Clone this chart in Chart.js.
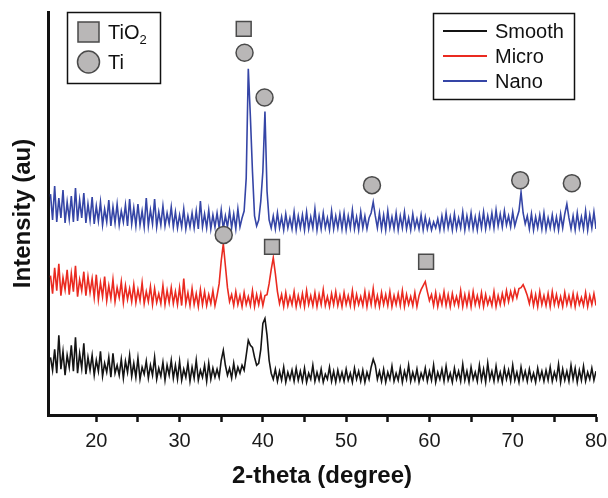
<!DOCTYPE html>
<html>
<head>
<meta charset="utf-8">
<script src="https://cdn.jsdelivr.net/npm/chart.js@4/dist/chart.umd.min.js"></script>
<style>
  html, body { margin: 0; padding: 0; background: #fff; }
  #wrap { width: 608px; height: 498px; }
</style>
</head>
<body>
<div id="wrap"><canvas id="xrdChart" width="608" height="498"></canvas></div>
<script>
// 2-theta sampling: first angle and step (degrees)
const startAngle = 14.5;
const stepAngle = 0.25;

// intensities (au), one row per 5 degrees starting at 14.5
const smooth = [
  58, 45, 66, 42, 80, 46, 64, 40, 60, 48, 70, 44, 78, 42, 62, 47, 72, 41, 58, 45,
  60, 40, 55, 44, 64, 39, 52, 43, 58, 38, 62, 42, 50, 40, 56, 37, 54, 43, 60, 39,
  52, 38, 57, 36, 48, 41, 54, 37, 50, 40, 58, 36, 47, 39, 53, 35, 50, 40, 55, 37,
  50, 36, 54, 35, 46, 38, 52, 34, 48, 37, 55, 35, 45, 38, 50, 34, 52, 36, 47, 38,
  46, 38, 55, 65, 50, 40, 47, 37, 52, 39, 48, 42, 50, 45, 60, 75, 70, 68, 58, 50,
  52, 66, 92, 97, 80, 55, 42, 36, 46, 34, 44, 35, 48, 33, 43, 36, 45, 34, 47, 35,
  44, 34, 47, 33, 42, 36, 50, 34, 43, 35, 46, 33, 41, 36, 48, 34, 44, 33, 45, 35,
  43, 34, 46, 35, 42, 33, 47, 36, 44, 34, 45, 33, 43, 36, 48, 56, 50, 36, 44, 34,
  46, 33, 43, 36, 49, 34, 42, 35, 47, 33, 44, 36, 50, 34, 43, 35, 46, 33, 42, 36,
  47, 34, 44, 35, 50, 33, 43, 36, 46, 34, 49, 35, 42, 33, 47, 36, 44, 34, 51, 35,
  44, 33, 48, 36, 43, 34, 50, 35, 46, 33, 52, 36, 44, 34, 49, 35, 43, 33, 47, 36,
  45, 34, 50, 35, 43, 33, 48, 36, 44, 34, 46, 35, 42, 33, 47, 36, 44, 34, 45, 35,
  48, 34, 43, 36, 51, 33, 46, 35, 44, 34, 50, 36, 47, 33, 45, 35, 49, 34, 43, 36,
  47, 35, 44
];

const micro = [
  140, 122, 148, 125, 152, 120, 138, 126, 146, 121, 142, 124, 150, 119, 136, 125, 144, 120, 139, 123,
  137, 118, 141, 116, 133, 119, 139, 115, 130, 117, 136, 114, 128, 118, 134, 113, 130, 116, 127, 114,
  131, 113, 126, 115, 133, 112, 124, 114, 129, 111, 127, 113, 122, 112, 130, 111, 125, 113, 128, 112,
  124, 111, 128, 110, 137, 112, 123, 110, 127, 111, 122, 109, 126, 111, 124, 110, 121, 112, 125, 110,
  120, 132, 155, 172, 150, 128, 114, 121, 110, 124, 111, 120, 109, 123, 111, 119, 110, 125, 109, 121,
  111, 122, 110, 120, 121, 132, 146, 158, 142, 124, 112, 121, 109, 123, 110, 119, 111, 124, 109, 120,
  110, 122, 109, 125, 111, 120, 110, 123, 109, 121, 111, 126, 110, 119, 109, 122, 111, 124, 110, 120,
  109, 123, 111, 120, 110, 125, 109, 121, 111, 119, 110, 124, 109, 122, 111, 127, 110, 120, 109, 123,
  111, 121, 110, 124, 109, 120, 111, 122, 110, 125, 109, 121, 111, 119, 110, 123, 109, 120, 126, 130,
  134, 124, 115, 121, 110, 123, 109, 120, 111, 124, 110, 121, 109, 122, 111, 119, 110, 125, 109, 121,
  110, 122, 109, 124, 111, 120, 110, 123, 109, 121, 111, 118, 110, 124, 109, 120, 111, 122, 112, 125,
  114, 124, 116, 126, 118, 127, 128, 131, 126, 120, 112, 123, 110, 121, 109, 124, 111, 120, 110, 122,
  109, 124, 111, 121, 110, 119, 109, 123, 111, 120, 110, 122, 109, 121, 111, 118, 110, 123, 109, 120,
  111, 122, 110
];

const nano = [
  222, 196, 230, 194, 218, 198, 226, 193, 214, 197, 220, 194, 228, 195, 216, 198, 223, 193, 212, 196,
  219, 192, 210, 195, 214, 191, 207, 194, 216, 190, 209, 193, 212, 191, 205, 194, 211, 190, 217, 192,
  208, 190, 212, 191, 205, 189, 218, 190, 206, 192, 217, 189, 204, 191, 210, 190, 203, 192, 209, 189,
  204, 188, 201, 189, 207, 187, 200, 189, 203, 188, 205, 187, 215, 189, 202, 188, 206, 187, 201, 189,
  203, 188, 206, 187, 200, 189, 205, 188, 202, 187, 207, 189, 198, 205, 238, 348, 300, 245, 200, 190,
  196, 215, 245, 305, 225, 196, 188, 200, 187, 203, 188, 199, 186, 202, 188, 198, 187, 204, 186, 200,
  188, 201, 186, 204, 187, 199, 188, 207, 186, 200, 187, 203, 188, 198, 186, 205, 187, 200, 188, 202,
  187, 203, 186, 200, 188, 206, 187, 199, 186, 204, 188, 200, 187, 198, 203, 214, 200, 188, 203, 187,
  201, 186, 205, 188, 199, 187, 203, 186, 200, 188, 204, 187, 198, 186, 202, 188, 197, 187, 201, 186,
  199, 187, 196, 186, 194, 188, 197, 186, 200, 187, 203, 188, 199, 186, 202, 187, 198, 188, 204, 186,
  200, 188, 203, 187, 199, 186, 201, 188, 204, 187, 200, 189, 203, 188, 206, 190, 202, 189, 205, 191,
  200, 189, 204, 190, 198, 205, 224, 203, 192, 200, 187, 202, 186, 199, 188, 201, 187, 203, 186, 198,
  188, 201, 187, 199, 186, 202, 188, 202, 212, 198, 187, 200, 186, 203, 188, 199, 187, 205, 186, 201,
  188, 204, 187
];

// phase markers [2-theta, intensity]
const tio2Marks = [[37.7, 388], [41.1, 169], [59.6, 154]];
const tiMarks = [[37.8, 364], [40.2, 319], [53.1, 231], [70.9, 236], [77.1, 233], [35.3, 181]];

const seriesNames = ['Smooth', 'Micro', 'Nano'];
const seriesColors = ['#141414', '#ea2a20', '#3545a6'];
const xTicks = [20, 30, 40, 50, 60, 70, 80];

function toPoints(values) {
  return values.map((v, i) => ({ x: startAngle + i * stepAngle, y: v }));
}

const markFill = '#b9b7b7';
const markLine = '#4a4a4a';

const legendBoxes = {
  id: 'legendBoxes',
  afterDraw(chart) {
    const ctx = chart.ctx;
    ctx.save();
    ctx.lineWidth = 1.5;
    ctx.strokeStyle = '#111';

    // phase legend
    ctx.strokeRect(67.5, 12.5, 93, 71);
    ctx.fillStyle = markFill;
    ctx.strokeStyle = markLine;
    ctx.fillRect(78, 22, 21, 20);
    ctx.strokeRect(78, 22, 21, 20);
    ctx.beginPath();
    ctx.arc(88.5, 62, 11, 0, Math.PI * 2);
    ctx.fill();
    ctx.stroke();
    ctx.fillStyle = '#111';
    ctx.textBaseline = 'middle';
    ctx.textAlign = 'left';
    ctx.font = '20px "Liberation Sans", Arial, sans-serif';
    ctx.fillText('TiO', 108, 33);
    const w = ctx.measureText('TiO').width;
    ctx.font = '13px "Liberation Sans", Arial, sans-serif';
    ctx.fillText('2', 108 + w, 40);
    ctx.font = '20px "Liberation Sans", Arial, sans-serif';
    ctx.fillText('Ti', 108, 63);

    // series legend
    ctx.strokeStyle = '#111';
    ctx.strokeRect(433.5, 13.5, 141, 86);
    const rows = [31, 56, 81];
    seriesNames.forEach((name, k) => {
      ctx.strokeStyle = seriesColors[k];
      ctx.lineWidth = 2;
      ctx.beginPath();
      ctx.moveTo(443, rows[k]);
      ctx.lineTo(487, rows[k]);
      ctx.stroke();
      ctx.fillStyle = '#111';
      ctx.fillText(name, 495, rows[k] + 1);
    });
    ctx.restore();
  }
};

const lineSets = [smooth, micro, nano].map((vals, k) => ({
  type: 'line',
  label: seriesNames[k],
  data: toPoints(vals),
  borderColor: seriesColors[k],
  borderWidth: 1.6,
  pointRadius: 0,
  tension: 0,
  order: 2
}));

new Chart(document.getElementById('xrdChart'), {
  type: 'line',
  data: {
    datasets: [
      ...lineSets,
      {
        type: 'scatter',
        label: 'Ti',
        data: tiMarks.map(p => ({ x: p[0], y: p[1] })),
        pointStyle: 'circle',
        pointRadius: 8.5,
        backgroundColor: markFill,
        borderColor: markLine,
        borderWidth: 1.5,
        order: 1
      },
      {
        type: 'scatter',
        label: 'TiO2',
        data: tio2Marks.map(p => ({ x: p[0], y: p[1] })),
        pointStyle: 'rect',
        pointRadius: 10.5,
        backgroundColor: markFill,
        borderColor: markLine,
        borderWidth: 1.5,
        order: 1
      }
    ]
  },
  options: {
    responsive: false,
    animation: false,
    devicePixelRatio: 1,
    layout: { padding: { top: 10, right: 0, left: 0, bottom: 0 } },
    plugins: {
      legend: { display: false },
      tooltip: { enabled: false }
    },
    scales: {
      x: {
        type: 'linear',
        min: 14.2,
        max: 80,
        afterFit(scale) {
          scale.height = 83;
          scale.paddingRight = 11;
        },
        afterBuildTicks(scale) {
          scale.ticks = [];
          for (let v = 20; v <= 80; v += 5) scale.ticks.push({ value: v });
        },
        ticks: {
          color: '#1a1a1a',
          font: { family: '"Liberation Sans", Arial, sans-serif', size: 20 },
          padding: 7,
          maxRotation: 0,
          autoSkip: false,
          callback: v => (xTicks.includes(v) ? String(v) : '')
        },
        grid: {
          display: true,
          drawOnChartArea: false,
          drawTicks: true,
          tickLength: 7,
          tickWidth: 2.5,
          tickColor: '#111'
        },
        border: { display: true, width: 3, color: '#111' },
        title: {
          display: true,
          text: '2-theta (degree)',
          color: '#111',
          font: { family: '"Liberation Sans", Arial, sans-serif', size: 24, weight: 'bold' },
          padding: { top: 0, bottom: 7 }
        }
      },
      y: {
        type: 'linear',
        min: 0,
        max: 405,
        afterFit(scale) { scale.width = 48; },
        ticks: { display: false },
        grid: { display: false },
        border: { display: true, width: 3, color: '#111' },
        title: {
          display: true,
          text: 'Intensity (au)',
          color: '#111',
          font: { family: '"Liberation Sans", Arial, sans-serif', size: 24, weight: 'bold' },
          padding: { top: 9, bottom: 0 }
        }
      }
    }
  },
  plugins: [legendBoxes]
});
</script>
</body>
</html>
